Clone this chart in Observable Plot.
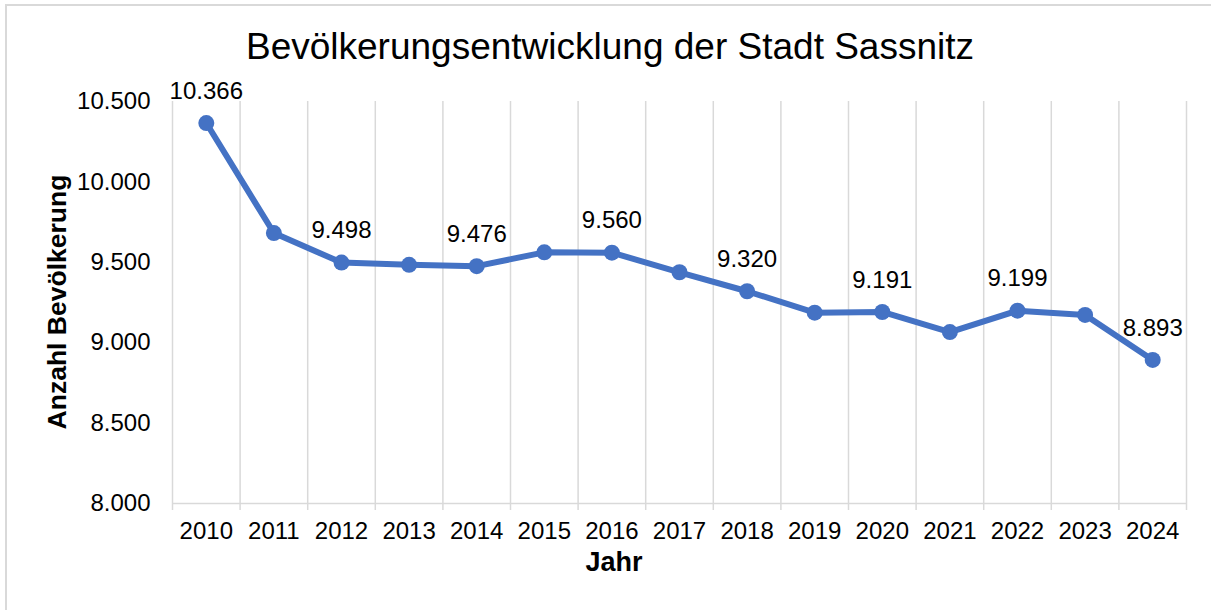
<!DOCTYPE html>
<html>
<head>
<meta charset="utf-8">
<script src="https://cdn.jsdelivr.net/npm/d3@7"></script>
<script src="https://cdn.jsdelivr.net/npm/@observablehq/plot@0.6"></script>
<style>
  html, body { margin: 0; padding: 0; background: #fff; overflow: hidden; }
  #wrap { position: relative; width: 1211px; height: 610px; overflow: hidden; font-family: "Liberation Sans", Arial, sans-serif; color: #000; }
  #frame { position: absolute; left: 5px; top: 4px; width: 1230px; height: 630px; border: 2px solid #d9d9d9; box-sizing: border-box; }
  #title { position: absolute; left: 0; width: 1220px; top: 47px; transform: translateY(-50%); text-align: center; font-size: 37px; line-height: 44px; white-space: nowrap; }
  #ylabel { position: absolute; left: 57px; top: 302px; transform: translate(-50%, -50%) rotate(-90deg); font-size: 26.5px; font-weight: bold; white-space: nowrap; line-height: 30px; }
  #xlabel { position: absolute; left: 614px; top: 562px; transform: translate(-50%, -50%); font-size: 27px; font-weight: bold; white-space: nowrap; line-height: 30px; }
  #chart { position: absolute; left: 0; top: 0; }
</style>
</head>
<body>
<div id="wrap">
  <div id="frame"></div>
  <div id="chart"></div>
  <div id="title">Bevölkerungsentwicklung der Stadt Sassnitz</div>
  <div id="ylabel">Anzahl Bevölkerung</div>
  <div id="xlabel">Jahr</div>
</div>
<script>
const years = [2010, 2011, 2012, 2013, 2014, 2015, 2016, 2017, 2018, 2019, 2020, 2021, 2022, 2023, 2024];
const population = [10366, 9682, 9498, 9484, 9476, 9562, 9560, 9438, 9320, 9187, 9191, 9066, 9199, 9173, 8893];
const labeledYears = [2010, 2012, 2014, 2016, 2018, 2020, 2022, 2024];
const yTicks = [8000, 8500, 9000, 9500, 10000, 10500];

const de = d3.formatLocale({decimal: ",", thousands: ".", grouping: [3], currency: ["", " €"]});
const fmt = de.format(",.0f");

const data = years.map((year, i) => ({year, value: population[i]}));
const boundaries = years.map(y => y - 0.5).concat([years[years.length - 1] + 0.5]);
const FONT = '"Liberation Sans", Arial, sans-serif';

const chart = Plot.plot({
  width: 1211,
  height: 610,
  marginTop: 101,
  marginBottom: 107,
  marginLeft: 172,
  marginRight: 25,
  style: {fontFamily: FONT, fontSize: "24px", color: "#000", background: "transparent", overflow: "visible"},
  x: {domain: [boundaries[0], boundaries[boundaries.length - 1]]},
  y: {domain: [yTicks[0], yTicks[yTicks.length - 1]]},
  marks: [
    Plot.ruleX(boundaries, {stroke: "#d9d9d9", strokeWidth: 1.5}),
    Plot.ruleY([yTicks[0]], {stroke: "#d9d9d9", strokeWidth: 1.5}),
    Plot.axisX(boundaries, {tickSize: 7, tickFormat: () => "", stroke: "#d9d9d9", strokeWidth: 1.5, label: null}),
    Plot.axisX(years, {tickSize: 0, tickPadding: 18, tickFormat: d => String(d), fontSize: 24, label: null, fill: "#000"}),
    Plot.axisY(yTicks, {tickSize: 0, tickPadding: 22, tickFormat: fmt, fontSize: 24, label: null, fill: "#000"}),
    Plot.line(data, {x: "year", y: "value", stroke: "#4472C4", strokeWidth: 6, strokeLinejoin: "round", strokeLinecap: "round"}),
    Plot.dot(data, {x: "year", y: "value", r: 8, fill: "#4472C4", stroke: "none"}),
    Plot.text(data.filter(d => labeledYears.includes(d.year)), {x: "year", y: "value", text: d => fmt(d.value), dy: -32, fontSize: 24, fill: "#000"})
  ]
});
document.getElementById("chart").appendChild(chart);
</script>
</body>
</html>
